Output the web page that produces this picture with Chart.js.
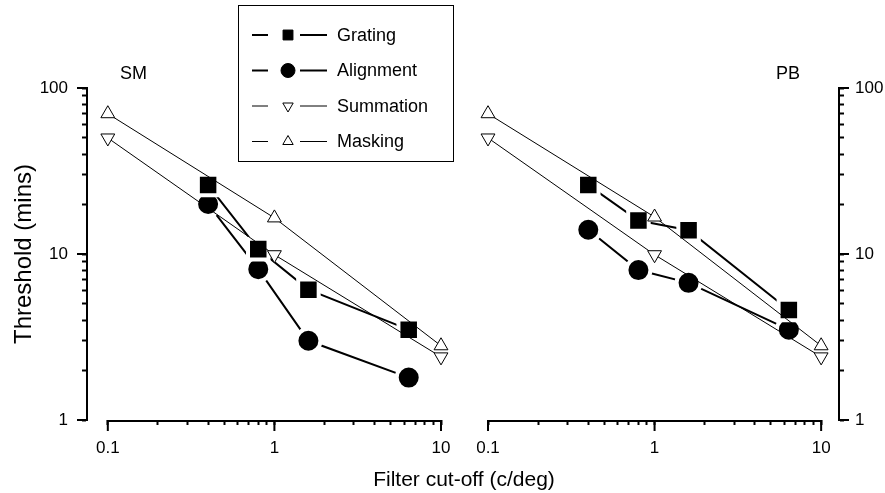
<!DOCTYPE html>
<html>
<head>
<meta charset="utf-8">
<title>Threshold vs filter cut-off</title>
<script src="https://cdn.jsdelivr.net/npm/chart.js@4.4.0/dist/chart.umd.min.js"></script>
<style>
  body { margin: 0; background: #fff; }
  #wrap { position: relative; width: 885px; height: 493px; overflow: hidden; }
  #wrap canvas { position: absolute; left: 0; top: 0; }
  #xTitle {
    position: absolute; left: 314px; width: 300px; top: 467px;
    text-align: center; line-height: 21px;
    font: 21px Arial, 'Liberation Sans', sans-serif; color: #000;
  }
</style>
</head>
<body>
<div id="wrap">
  <canvas id="smChart" width="885" height="493"></canvas>
  <canvas id="pbChart" width="885" height="493"></canvas>
  <div id="xTitle">Filter cut-off (c/deg)</div>
</div>
<script>
// filter cut-offs (c/deg)
const cutoffs = [0.4, 0.8, 1.6, 6.4];
const modelCutoffs = [0.1, 1, 10];

// observer SM, thresholds in mins
const gratingSM = [26, 10.7, 6.1, 3.5];
const alignmentSM = [20, 8.1, 3.0, 1.8];
const summationSM = [50, 9.9, 2.4];
const maskingSM = [70, 16.5, 2.8];

// observer PB
const gratingPB = [26, 15.9, 13.9, 4.6];
const alignmentPB = [14, 8.0, 6.7, 3.5];
const summationPB = [50, 9.9, 2.4];
const maskingPB = [70, 16.7, 2.8];

// axis ticks
const xTicks = [0.1, 0.2, 0.3, 0.4, 0.5, 0.6, 0.7, 0.8, 0.9, 1, 2, 3, 4, 5, 6, 7, 8, 9, 10];
const xLabels = [0.1, 1, 10];
const yTicks = [1, 2, 3, 4, 5, 6, 7, 8, 9, 10, 20, 30, 40, 50, 60, 70, 80, 90, 100];
const yLabels = [1, 10, 100];

const FONT = "Arial, 'Liberation Sans', sans-serif";
const tickFont = { family: FONT, size: 17 };

function pts(xs, ys) {
    return xs.map((x, i) => ({ x: x, y: ys[i] }));
}

function makeDatasets(grating, alignment, summation, masking) {
    const common = { borderColor: '#000', clip: false };
    // filled markers get a white ring so the joining lines stop short of them
    return [
        Object.assign({}, common, {
            label: 'Grating', data: pts(cutoffs, grating), borderWidth: 2, order: 1,
            pointStyle: 'rect', pointRadius: 14.5, pointBackgroundColor: '#000',
            pointBorderColor: '#fff', pointBorderWidth: 4
        }),
        Object.assign({}, common, {
            label: 'Alignment', data: pts(cutoffs, alignment), borderWidth: 2, order: 2,
            pointStyle: 'circle', pointRadius: 12, pointBackgroundColor: '#000',
            pointBorderColor: '#fff', pointBorderWidth: 4
        }),
        Object.assign({}, common, {
            label: 'Summation', data: pts(modelCutoffs, summation), borderWidth: 1, order: 0,
            pointStyle: 'triangle', pointRotation: 180, pointRadius: 8, pointBackgroundColor: '#fff',
            pointBorderColor: '#000', pointBorderWidth: 1
        }),
        Object.assign({}, common, {
            label: 'Masking', data: pts(modelCutoffs, masking), borderWidth: 1, order: 0,
            pointStyle: 'triangle', pointRotation: 0, pointRadius: 8, pointBackgroundColor: '#fff',
            pointBorderColor: '#000', pointBorderWidth: 1
        })
    ];
}

function xScale(min, max) {
    return {
        type: 'logarithmic', min: min, max: max,
        border: { display: false },
        grid: { drawOnChartArea: false, drawTicks: true, tickLength: 5, tickWidth: 2, tickColor: '#000' },
        ticks: {
            autoSkip: false, maxRotation: 0, padding: 13, color: '#000', font: tickFont,
            callback: v => xLabels.includes(v) ? String(v) : ''
        },
        afterBuildTicks: s => { s.ticks = xTicks.map(v => ({ value: v })); },
        afterFit: s => { s.height = 73; }
    };
}

function yScale(position, width, pad, title) {
    return {
        type: 'logarithmic', position: position, min: 1, max: 100,
        border: { display: true, color: '#000', width: 2 },
        grid: { drawOnChartArea: false, drawTicks: true, tickLength: 5, tickWidth: 2, tickColor: '#000' },
        ticks: {
            autoSkip: false, padding: pad, color: '#000', font: tickFont,
            callback: v => yLabels.includes(v) ? String(v) : ''
        },
        title: title ? {
            display: true, text: title, color: '#000',
            font: { family: FONT, size: 24 }, padding: { top: 10, bottom: 0 }
        } : { display: false },
        afterBuildTicks: s => { s.ticks = yTicks.map(v => ({ value: v })); },
        afterFit: s => { s.width = width; }
    };
}

// x axis line between 0.1 and 10, longer major ticks, panel name
const axisExtras = {
    id: 'axisExtras',
    afterDraw(chart) {
        const ctx = chart.ctx, a = chart.chartArea;
        const x = chart.scales.x, y = chart.scales.y;
        ctx.save();
        ctx.strokeStyle = '#000';
        ctx.lineWidth = 2;
        ctx.beginPath();
        ctx.moveTo(x.getPixelForValue(xTicks[0]) - 1, a.bottom + 1);
        ctx.lineTo(x.getPixelForValue(xTicks[xTicks.length - 1]) + 1, a.bottom + 1);
        xLabels.forEach(v => {
            const px = x.getPixelForValue(v);
            ctx.moveTo(px, a.bottom);
            ctx.lineTo(px, a.bottom + 11);
        });
        const side = y.position === 'right' ? 1 : -1;
        const ax = side > 0 ? a.right : a.left;
        yLabels.forEach(v => {
            const py = y.getPixelForValue(v);
            ctx.moveTo(ax, py);
            ctx.lineTo(ax + side * 10, py);
        });
        ctx.stroke();

        const lab = chart.options.plugins.axisExtras;
        ctx.fillStyle = '#000';
        ctx.font = '18px ' + FONT;
        ctx.textAlign = lab.align;
        ctx.textBaseline = 'middle';
        ctx.fillText(lab.text, lab.x, 74);
        ctx.restore();
    }
};

// boxed legend: line - marker - line  label
const boxLegend = {
    id: 'boxLegend',
    afterDraw(chart) {
        const ctx = chart.ctx;
        const sizes = { rect: 7, circle: 7, triangle: 6 };
        ctx.save();
        ctx.fillStyle = '#fff';
        ctx.fillRect(238.5, 5.5, 215, 156);
        ctx.strokeStyle = '#000';
        ctx.lineWidth = 1;
        ctx.strokeRect(238.5, 5.5, 215, 156);
        chart.data.datasets.forEach((ds, i) => {
            const y = 35 + i * 35.5;
            ctx.strokeStyle = '#000';
            ctx.lineWidth = ds.borderWidth;
            ctx.beginPath();
            ctx.moveTo(252, y); ctx.lineTo(268, y);
            ctx.moveTo(300, y); ctx.lineTo(327, y);
            ctx.stroke();
            ctx.fillStyle = ds.pointBackgroundColor;
            ctx.strokeStyle = '#000';
            ctx.lineWidth = 1;
            Chart.helpers.drawPoint(ctx, {
                pointStyle: ds.pointStyle, radius: sizes[ds.pointStyle],
                rotation: ds.pointRotation || 0, borderWidth: 1
            }, 288, y);
            ctx.fillStyle = '#000';
            ctx.font = '18px ' + FONT;
            ctx.textAlign = 'left';
            ctx.textBaseline = 'middle';
            ctx.fillText(ds.label, 337, y + 1);
        });
        ctx.restore();
    }
};

new Chart(document.getElementById('smChart'), {
    type: 'line',
    data: { datasets: makeDatasets(gratingSM, alignmentSM, summationSM, maskingSM) },
    options: {
        responsive: false,
        animation: false,
        layout: { padding: { left: 0, right: 444, top: 88, bottom: 0 } },
        plugins: {
            legend: { display: false },
            tooltip: { enabled: false },
            axisExtras: { text: 'SM', x: 120, align: 'left' }
        },
        scales: {
            x: xScale(0.075, 10),
            y: yScale('left', 87, 14, 'Threshold (mins)')
        }
    },
    plugins: [axisExtras, boxLegend]
});

new Chart(document.getElementById('pbChart'), {
    type: 'line',
    data: { datasets: makeDatasets(gratingPB, alignmentPB, summationPB, maskingPB) },
    options: {
        responsive: false,
        animation: false,
        layout: { padding: { left: 488, right: 0, top: 88, bottom: 0 } },
        plugins: {
            legend: { display: false },
            tooltip: { enabled: false },
            axisExtras: { text: 'PB', x: 800, align: 'right' }
        },
        scales: {
            x: xScale(0.1, 12.8),
            y: yScale('right', 46, 11, null)
        }
    },
    plugins: [axisExtras]
});
</script>
</body>
</html>
